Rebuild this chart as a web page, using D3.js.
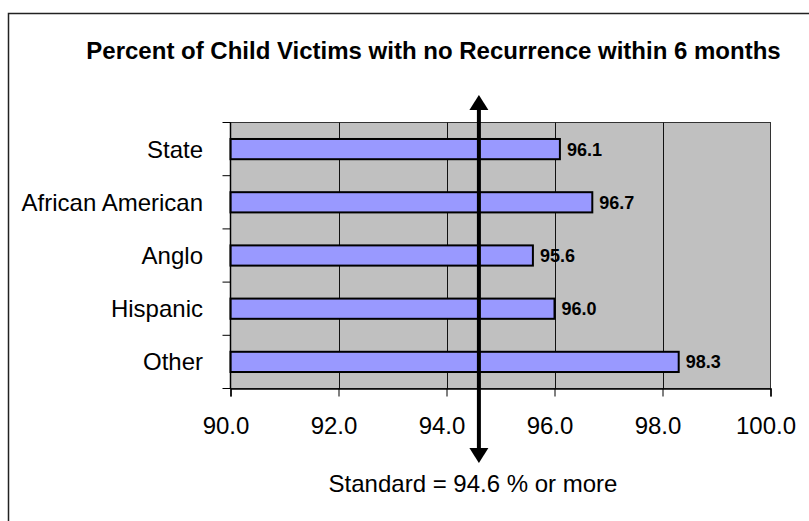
<!DOCTYPE html>
<html>
<head>
<meta charset="utf-8">
<script src="https://cdn.jsdelivr.net/npm/d3@7"></script>
<style>
  html, body { margin: 0; padding: 0; background: #fff; }
  svg { display: block; font-family: "Liberation Sans", Arial, sans-serif; }
</style>
</head>
<body>
<svg id="chart" width="809" height="521"></svg>
<script>
// Chart data
const categories = ["State", "African American", "Anglo", "Hispanic", "Other"];
const values = [96.1, 96.7, 95.6, 96.0, 98.3];
const xTicks = [90, 92, 94, 96, 98, 100];
const standardValue = 94.6;
const titleText = "Percent of Child Victims with no Recurrence within 6 months";
const standardText = "Standard = " + standardValue.toFixed(1) + " % or more";

const svg = d3.select("#chart");

// Plot area
const plot = { left: 230.5, right: 770.5, top: 122.5, bottom: 388.5 };
const labelSize = 24;

const x = d3.scaleLinear().domain([90, 100]).range([plot.left, plot.right]);
const y = d3.scaleBand().domain(categories).range([plot.top, plot.bottom]).paddingInner(0).paddingOuter(0);
const barH = y.bandwidth() * 0.38;

// Outer frame (top and left edges only)
svg.append("path")
  .attr("d", "M8.5,521 L8.5,13.5 L809,13.5")
  .attr("fill", "none").attr("stroke", "#222").attr("stroke-width", 1.5);

// Title
svg.append("text")
  .attr("x", 433.5).attr("y", 59)
  .attr("text-anchor", "middle")
  .attr("font-weight", "bold").attr("font-size", 24)
  .text(titleText);

// Plot background
svg.append("rect")
  .attr("x", plot.left).attr("y", plot.top)
  .attr("width", plot.right - plot.left).attr("height", plot.bottom - plot.top)
  .attr("fill", "#C0C0C0").attr("stroke", "#333").attr("stroke-width", 1);

// Vertical gridlines
svg.append("g").selectAll("line")
  .data(xTicks.filter(t => t > 90 && t < 100))
  .join("line")
  .attr("x1", d => Math.round(x(d)) + 0.5).attr("x2", d => Math.round(x(d)) + 0.5)
  .attr("y1", plot.top).attr("y2", plot.bottom)
  .attr("stroke", "#111").attr("stroke-width", 1);

// Bars
const rows = categories.map((c, i) => ({ c, v: values[i] }));
svg.append("g").selectAll("rect")
  .data(rows)
  .join("rect")
  .attr("x", x(90))
  .attr("y", d => y(d.c) + (y.bandwidth() - barH) / 2)
  .attr("width", d => x(d.v) - x(90))
  .attr("height", barH)
  .attr("fill", "#9999FF").attr("stroke", "#000").attr("stroke-width", 2);

// Value labels
svg.append("g").selectAll("text")
  .data(rows)
  .join("text")
  .attr("x", d => x(d.v) + 7)
  .attr("y", d => y(d.c) + y.bandwidth() / 2 + 6.5)
  .attr("font-weight", "bold").attr("font-size", 18)
  .attr("fill", "#000")
  .text(d => d.v.toFixed(1));

// Y axis: category boundaries as ticks
const yAxisG = svg.append("g");
yAxisG.append("line")
  .attr("x1", plot.left).attr("x2", plot.left)
  .attr("y1", plot.top).attr("y2", plot.bottom)
  .attr("stroke", "#000").attr("stroke-width", 1.5);
const boundaries = categories.map(c => y(c)).concat([plot.bottom]);
yAxisG.selectAll("line.tick")
  .data(boundaries)
  .join("line").attr("class", "tick")
  .attr("x1", plot.left - 8).attr("x2", plot.left)
  .attr("y1", d => d).attr("y2", d => d)
  .attr("stroke", "#000").attr("stroke-width", 1);
yAxisG.selectAll("text")
  .data(categories)
  .join("text")
  .attr("x", 203)
  .attr("y", d => y(d) + y.bandwidth() / 2 + 8.5)
  .attr("text-anchor", "end")
  .attr("font-size", labelSize)
  .text(d => d);

// X axis
const xAxis = d3.axisBottom(x)
  .tickValues(xTicks)
  .tickSize(8)
  .tickPadding(20)
  .tickFormat(d3.format(".1f"));
const xAxisG = svg.append("g")
  .attr("transform", `translate(0,${plot.bottom})`)
  .call(xAxis);
xAxisG.select(".domain").attr("stroke", "#000").attr("stroke-width", 1.5);
xAxisG.selectAll(".tick line").attr("stroke", "#000");
xAxisG.selectAll(".tick text")
  .attr("font-size", labelSize)
  .attr("font-family", "Liberation Sans, Arial, sans-serif")
  .attr("dx", -5)
  .attr("fill", "#000");

// Standard marker: double-headed vertical arrow
const sx = x(standardValue);
const topTip = 95, botTip = 463, headH = 15, headW = 9.5;
svg.append("line")
  .attr("x1", sx).attr("x2", sx)
  .attr("y1", topTip + headH - 1).attr("y2", botTip - headH + 1)
  .attr("stroke", "#000").attr("stroke-width", 4);
svg.append("path")
  .attr("d", `M${sx},${topTip} L${sx + headW},${topTip + headH} L${sx - headW},${topTip + headH} Z`)
  .attr("fill", "#000");
svg.append("path")
  .attr("d", `M${sx},${botTip} L${sx + headW},${botTip - headH} L${sx - headW},${botTip - headH} Z`)
  .attr("fill", "#000");

// Standard caption
svg.append("text")
  .attr("x", 473).attr("y", 492)
  .attr("text-anchor", "middle")
  .attr("font-size", labelSize)
  .text(standardText);
</script>
</body>
</html>
